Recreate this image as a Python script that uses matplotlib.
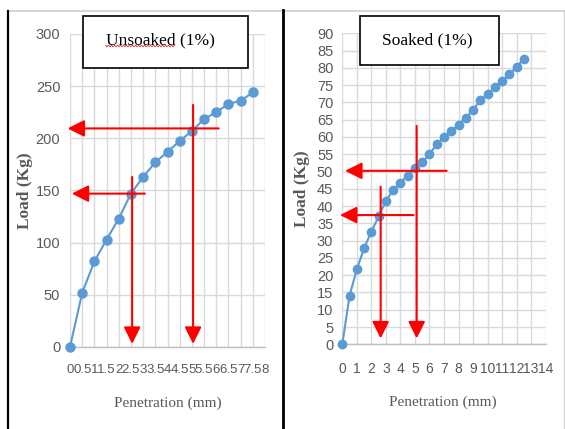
import matplotlib
matplotlib.use("Agg")
import numpy as np
import matplotlib.pyplot as plt
from matplotlib.patches import Rectangle
from matplotlib.lines import Line2D

# unsoaked test (line chart on a category axis)
unsoaked_labels = ["0", "0.5", "1", "1.5", "2", "2.5", "3", "3.5", "4", "4.5",
                   "5", "5.5", "6", "6.5", "7", "7.5", "8"]
unsoaked_pen = [0, 0.5, 1, 1.5, 2, 2.5, 3, 3.5, 4, 4.5, 5, 5.5, 6, 6.5, 7, 7.5]
unsoaked_load = [0, 52, 82, 103, 123, 147, 163, 177, 187, 197.5, 207, 218.5,
                 225, 233, 236, 244]

# soaked test (scatter with lines)
soaked_pen = [0, 0.5, 1, 1.5, 2, 2.5, 3, 3.5, 4, 4.5, 5, 5.5, 6, 6.5, 7, 7.5,
              8, 8.5, 9, 9.5, 10, 10.5, 11, 11.5, 12, 12.5]
soaked_load = [0, 14.1, 21.7, 27.8, 32.6, 37.0, 41.5, 44.6, 46.8, 48.8, 50.9,
               52.7, 55.0, 57.9, 59.9, 61.7, 63.5, 65.6, 67.8, 70.7, 72.3,
               74.4, 76.2, 78.1, 80.3, 82.6]

# red guide arrows: (x_from, y_from, x_to, y_to) in mm / kg
unsoaked_arrows = [(2.55, 163, 2.55, 3), (5.05, 232, 5.05, 3),
                   (3.07, 147, 0.07, 147), (6.1, 209.5, -0.1, 209.5)]
soaked_arrows = [(2.64, 45.6, 2.64, 1.7), (5.12, 63.2, 5.12, 1.7),
                 (7.18, 50.2, 0.19, 50.2), (4.9, 37.4, -0.16, 37.4)]

W, H = 565, 429
BLUE = "#5b9bd5"
GRID = "#d9d9d9"
TXT = "#595959"
TICK_FONT = ["Liberation Sans Narrow", "Liberation Sans"]
SERIF = ["Liberation Serif", "DejaVu Serif"]


def px_box(x0, y0, x1, y1):
    return [x0 / W, 1 - y1 / H, (x1 - x0) / W, (y1 - y0) / H]


def style_axes(ax):
    for s in ax.spines.values():
        s.set_visible(False)
    ax.spines["bottom"].set_visible(True)
    ax.spines["bottom"].set_color("#bfbfbf")
    ax.spines["bottom"].set_linewidth(1.0)
    ax.grid(True, color=GRID, linewidth=1.0)
    ax.set_axisbelow(True)
    ax.tick_params(length=0, colors=TXT, labelsize=10.5)
    for lab in ax.get_xticklabels() + ax.get_yticklabels():
        lab.set_fontfamily(TICK_FONT)


def draw_arrows(ax, arrows, xscale=1.0):
    for x0, y0, x1, y1 in arrows:
        ax.annotate("", xy=(x1 * xscale, y1), xytext=(x0 * xscale, y0),
                    arrowprops=dict(arrowstyle="-|>,head_length=0.6,head_width=0.3",
                                    color="red", lw=1.5, mutation_scale=17,
                                    shrinkA=0, shrinkB=0),
                    annotation_clip=False, zorder=5)


def title_box(fig, box, text, cx, cy):
    x0, y0, x1, y1 = box
    fig.add_artist(Rectangle((x0 / W, 1 - y1 / H), (x1 - x0) / W, (y1 - y0) / H,
                             transform=fig.transFigure, facecolor="white",
                             edgecolor="black", linewidth=1.2, zorder=4))
    return fig.text(cx / W, 1 - cy / H, text, ha="center", va="center",
                    fontsize=12.5, family=SERIF, color="black", zorder=5)


fig = plt.figure(figsize=(W / 100, H / 100), dpi=100)

# left panel
ax1 = fig.add_axes(px_box(70, 34, 265, 347))
cat_step = 0.5
ax1.plot([p / cat_step for p in unsoaked_pen], unsoaked_load, color=BLUE, lw=1.5,
         marker="o", markersize=6.5, clip_on=False, zorder=3)
ax1.set_xlim(0, len(unsoaked_labels) - 1)
ax1.set_ylim(0, 300)
ax1.set_xticks(range(len(unsoaked_labels)))
ax1.set_xticklabels(unsoaked_labels)
ax1.set_yticks(range(0, 301, 50))
style_axes(ax1)
ax1.tick_params(axis="x", pad=12, labelsize=9.5)
ax1.tick_params(axis="y", pad=7)
draw_arrows(ax1, unsoaked_arrows, 1 / cat_step)
ax1.set_xlabel("Penetration (mm)", family=SERIF, fontsize=11, color=TXT)
ax1.xaxis.set_label_coords(0.50, -0.158)
ax1.set_ylabel("Load (Kg)", family=SERIF, fontsize=12.5, fontweight="bold", color=TXT)
ax1.yaxis.set_label_coords(-0.19, 0.50)

# right panel
ax2 = fig.add_axes(px_box(342.3, 33.3, 545.7, 344.3))
ax2.plot(soaked_pen, soaked_load, color=BLUE, lw=1.5, marker="o", markersize=6,
         clip_on=False, zorder=3)
ax2.set_xlim(0, 14)
ax2.set_ylim(0, 90)
ax2.set_xticks(range(0, 15))
ax2.set_yticks(range(0, 91, 5))
style_axes(ax2)
ax2.tick_params(axis="x", pad=13, labelsize=10)
ax2.tick_params(axis="y", pad=6.5)
draw_arrows(ax2, soaked_arrows)
ax2.set_xlabel("Penetration (mm)", family=SERIF, fontsize=11, color=TXT)
ax2.xaxis.set_label_coords(0.495, -0.164)
ax2.set_ylabel("Load (Kg)", family=SERIF, fontsize=12.5, fontweight="bold", color=TXT)
ax2.yaxis.set_label_coords(-0.159, 0.50)

# title boxes
t1 = title_box(fig, (83, 16, 248, 68), "Unsoaked (1%)", 160, 40)
title_box(fig, (360, 16, 499, 65), "Soaked (1%)", 427, 40)

# panel frame lines
frame = [((8, 565), (11, 11), "#d0d0d0", 1.2),
         ((8, 8), (11, 429), "black", 1.6),
         ((283, 283), (10, 429), "black", 2.0),
         ((564, 564), (10, 429), "#d0d0d0", 1.0)]
for xs, ys, c, lw in frame:
    fig.add_artist(Line2D([x / W for x in xs], [1 - y / H for y in ys],
                          transform=fig.transFigure, color=c, lw=lw, zorder=6))

# spell-check squiggle under "Unsoaked"
fig.canvas.draw()
r = fig.canvas.get_renderer()
bb = t1.get_window_extent(r)
tmp = fig.text(0, 0, "Unsoaked", fontsize=12.5, family=SERIF)
wword = tmp.get_window_extent(r).width
tmp.remove()
sx = np.arange(bb.x0, bb.x0 + wword, 1.5)
sy = bb.y0 + 2 + np.where(np.arange(len(sx)) % 2 == 0, 0.8, -0.8)
fig.add_artist(Line2D(sx / W, sy / H, transform=fig.transFigure, color="#e03030",
                      lw=0.6, zorder=6))

fig.savefig("out.png", dpi=100)
